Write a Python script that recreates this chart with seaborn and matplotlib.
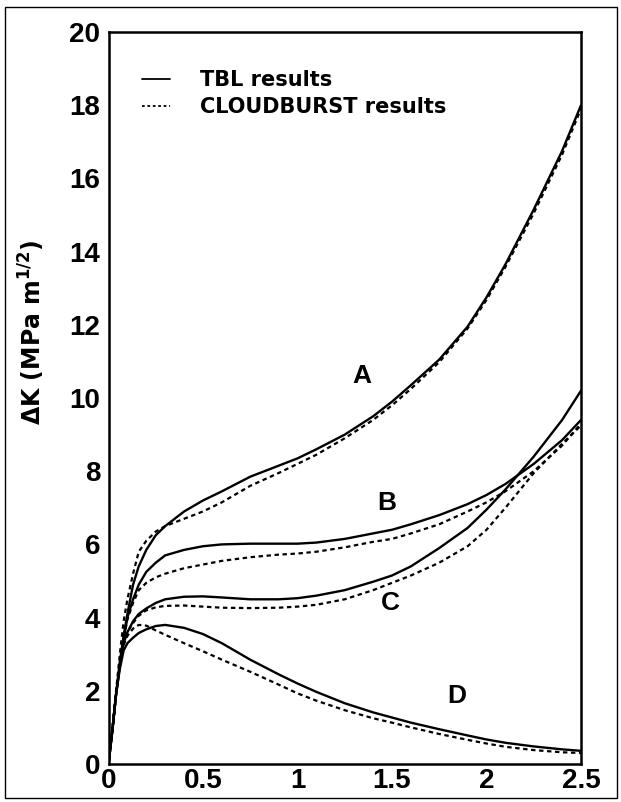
import numpy as np
import pandas as pd
import matplotlib
matplotlib.use("Agg")
import matplotlib.pyplot as plt
import seaborn as sns
from matplotlib.lines import Line2D
from matplotlib.patches import Rectangle

# ---- data ----
x_vals = [0, 0.02, 0.04, 0.06, 0.08, 0.1, 0.13, 0.16, 0.2, 0.25, 0.3, 0.4, 0.5,
          0.6, 0.75, 0.9, 1.0, 1.1, 1.25, 1.4, 1.5, 1.6, 1.75, 1.9, 2.0, 2.1,
          2.25, 2.4, 2.5]

A_tbl = [0, 0.9, 1.9, 2.8, 3.5, 4.1, 4.9, 5.4, 5.85, 6.25, 6.5, 6.9, 7.2,
         7.45, 7.85, 8.15, 8.35, 8.6, 9.0, 9.5, 9.9, 10.35, 11.05, 11.95, 12.75,
         13.65, 15.15, 16.75, 18.0]
A_cb = [0, 0.9, 2.0, 3.0, 3.9, 4.5, 5.2, 5.8, 6.1, 6.35, 6.5, 6.7, 6.9,
        7.15, 7.6, 7.95, 8.2, 8.45, 8.9, 9.4, 9.8, 10.25, 10.98, 11.9, 12.68,
        13.58, 15.05, 16.65, 17.9]
B_tbl = [0, 0.9, 1.9, 2.7, 3.4, 4.0, 4.5, 4.9, 5.25, 5.5, 5.7, 5.85, 5.95,
         6.0, 6.02, 6.02, 6.02, 6.05, 6.15, 6.3, 6.4, 6.55, 6.8, 7.1, 7.35,
         7.65, 8.2, 8.85, 9.4]
B_cb = [0, 0.9, 1.9, 2.7, 3.4, 3.95, 4.4, 4.75, 4.95, 5.1, 5.2, 5.35, 5.45,
        5.55, 5.65, 5.72, 5.75, 5.8, 5.92, 6.07, 6.15, 6.3, 6.55, 6.9, 7.15,
        7.45, 8.0, 8.7, 9.3]
C_tbl = [0, 0.9, 1.9, 2.7, 3.3, 3.6, 3.9, 4.1, 4.25, 4.4, 4.5, 4.57, 4.58,
         4.55, 4.5, 4.5, 4.53, 4.6, 4.75, 4.98, 5.15, 5.4, 5.9, 6.45, 6.95,
         7.5, 8.4, 9.4, 10.2]
C_cb = [0, 0.9, 1.9, 2.7, 3.3, 3.6, 3.85, 4.05, 4.2, 4.28, 4.32, 4.33, 4.3,
        4.27, 4.26, 4.27, 4.3, 4.35, 4.5, 4.75, 4.95, 5.15, 5.5, 5.95, 6.4,
        7.0, 7.95, 8.75, 9.25]
D_tbl = [0, 0.9, 1.9, 2.6, 3.1, 3.3, 3.45, 3.58, 3.68, 3.77, 3.8, 3.72, 3.55,
         3.3, 2.85, 2.45, 2.2, 1.97, 1.66, 1.41, 1.27, 1.13, 0.95, 0.78, 0.67,
         0.58, 0.48, 0.4, 0.36]
D_cb = [0, 0.9, 1.9, 2.7, 3.25, 3.5, 3.7, 3.8, 3.78, 3.65, 3.53, 3.3, 3.08,
        2.85, 2.52, 2.17, 1.93, 1.73, 1.47, 1.25, 1.13, 1.0, 0.82, 0.66, 0.56,
        0.47, 0.38, 0.32, 0.3]

curve_labels = ["A", "B", "C", "D"]
label_pos_x = [1.34, 1.47, 1.49, 1.84]
label_pos_y = [10.6, 7.13, 4.4, 1.86]
legend_labels = ["TBL results", "CLOUDBURST results"]
x_ticks = [0, 0.5, 1, 1.5, 2, 2.5]
x_tick_labels = ["0", "0.5", "1", "1.5", "2", "2.5"]
y_ticks = [0, 2, 4, 6, 8, 10, 12, 14, 16, 18, 20]

rows = []
for name, tbl, cb in [("A", A_tbl, A_cb), ("B", B_tbl, B_cb),
                      ("C", C_tbl, C_cb), ("D", D_tbl, D_cb)]:
    for xv, yv in zip(x_vals, tbl):
        rows.append((name, "TBL", xv, yv))
    for xv, yv in zip(x_vals, cb):
        rows.append((name, "CB", xv, yv))
df = pd.DataFrame(rows, columns=["curve", "method", "x", "K"])

# ---- figure ----
sns.set_theme(style="white")
plt.rcParams["font.family"] = ["Liberation Sans", "DejaVu Sans"]
plt.rcParams["font.weight"] = "bold"
plt.rcParams["text.color"] = "black"
plt.rcParams["axes.labelcolor"] = "black"

fig = plt.figure(figsize=(6.21, 8.02), dpi=100)
ax = fig.add_axes([108.5 / 621, 1 - 764 / 802, (581 - 108.5) / 621, (764 - 32) / 802])

dash = (0, (2.0, 1.6))
for (name, method), sub in df.groupby(["curve", "method"], sort=False):
    sns.lineplot(data=sub, x="x", y="K", ax=ax, color="black",
                 linewidth=1.7, estimator=None, sort=False)
    if method == "CB":
        ax.lines[-1].set_linestyle(dash)
        ax.lines[-1].set_linewidth(1.6)

ax.set_xlim(0, 2.5)
ax.set_ylim(0, 20)
ax.set_xticks(x_ticks)
ax.set_xticklabels(x_tick_labels)
ax.set_yticks(y_ticks)
ax.set_xticks(np.arange(0, 2.51, 0.1), minor=True)
ax.tick_params(axis="both", which="major", direction="in", length=5, width=1.3,
               labelsize=20, colors="black")
ax.tick_params(axis="y", which="major", pad=6)
ax.tick_params(axis="x", which="major", pad=3)
ax.tick_params(axis="x", which="minor", direction="in", length=3, width=1.0)
for lab in ax.get_xticklabels() + ax.get_yticklabels():
    lab.set_fontweight("bold")
for sp in ax.spines.values():
    sp.set_linewidth(1.8)
    sp.set_color("black")

ax.set_xlabel("")
ax.set_ylabel(r"ΔK (MPa m$^{\mathbf{1/2}}$)", fontsize=17,
              fontweight="bold", family="DejaVu Sans", color="black")
ax.yaxis.set_label_coords(-0.13, 0.59)

for lbl, lx, ly in zip(curve_labels, label_pos_x, label_pos_y):
    ax.text(lx, ly, lbl, fontsize=19, fontweight="bold", ha="center",
            va="center", color="black")

handles = [Line2D([], [], color="black", linewidth=1.3),
           Line2D([], [], color="black", linewidth=1.3, linestyle=(0, (1.5, 1.5)))]
leg = ax.legend(handles, legend_labels, loc="upper left",
                bbox_to_anchor=(0.07, 0.948), frameon=False,
                prop={"family": "DejaVu Sans", "weight": "bold", "size": 15},
                handlelength=1.35, handletextpad=1.45, labelspacing=0.35,
                borderpad=0, borderaxespad=0)
for t in leg.get_texts():
    t.set_color("black")

fig.patches.append(Rectangle((5 / 621, 4 / 802), 612 / 621, 791 / 802,
                             transform=fig.transFigure, fill=False,
                             edgecolor="black", linewidth=1.0))

fig.savefig("out.png", dpi=100)
